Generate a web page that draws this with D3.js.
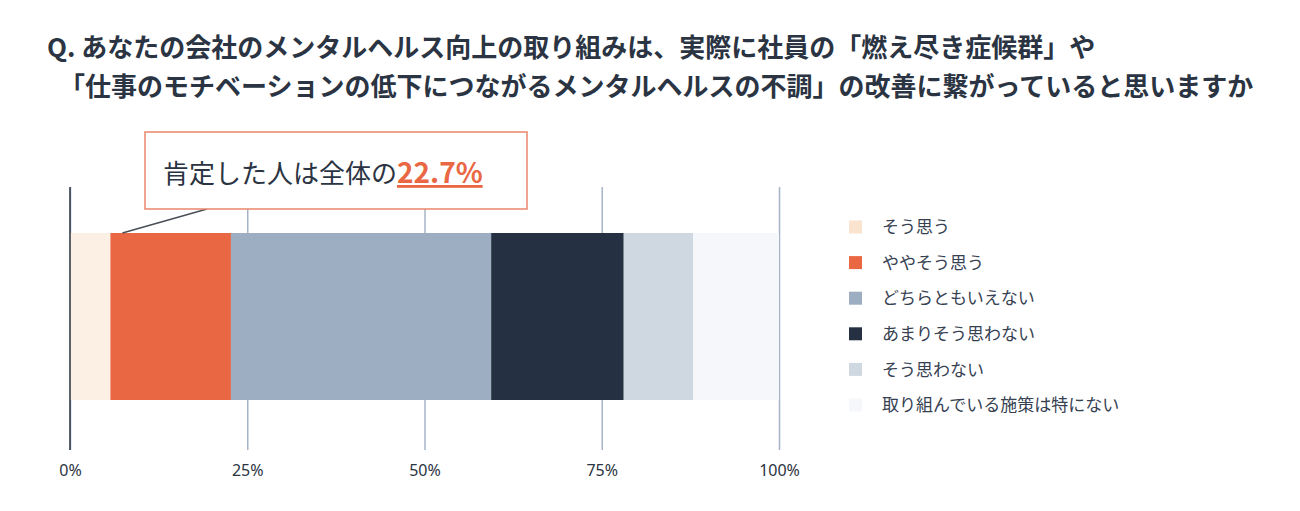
<!DOCTYPE html>
<html>
<head>
<meta charset="utf-8">
<script src="https://cdn.jsdelivr.net/npm/d3@7"></script>
<style>
  body { margin: 0; background: #fff; }
  svg { display: block; font-family: "Noto Sans CJK JP", "Noto Sans", sans-serif; }
</style>
</head>
<body>
<svg width="1300" height="511"></svg>
<script>
// answers, left to right in the bar
var categories = ["そう思う", "ややそう思う", "どちらともいえない", "あまりそう思わない", "そう思わない", "取り組んでいる施策は特にない"];
var values = [5.7, 17.0, 36.7, 18.7, 9.8, 12.1];
var colors = ["#fcf0e4", "#e96743", "#9dadc2", "#253142", "#cfd7e1", "#f6f7fa"];
var legendColors = ["#fbe4cf", "#e96743", "#9dadc2", "#253142", "#cfd7e1", "#f6f7fa"];
var ticks = [0, 25, 50, 75, 100];
var titleLines = [
  "Q. あなたの会社のメンタルヘルス向上の取り組みは、実際に社員の「燃え尽き症候群」や",
  "「仕事のモチベーションの低下につながるメンタルヘルスの不調」の改善に繋がっていると思いますか"
];

var svg = d3.select("svg");
var dark = "#2b3442";

var x = d3.scaleLinear().domain([0, 100]).range([70, 779]);
var barTop = 233, barBottom = 400, gridTop = 187, gridBottom = 450;

// title
svg.selectAll(".title")
  .data(titleLines)
  .enter().append("text")
    .attr("class", "title")
    .attr("x", function(d, i) { return i === 0 ? 47 : 59; })
    .attr("y", function(d, i) { return 57 + i * 39; })
    .attr("fill", dark)
    .attr("font-size", 26)
    .attr("font-weight", "bold")
    .text(function(d) { return d; });

// gridlines + axis
var g = svg.append("g");
g.append("g")
    .attr("transform", "translate(0," + gridBottom + ")")
    .call(d3.axisBottom(x).tickValues(ticks).tickSize(-(gridBottom - gridTop))
      .tickFormat(function(d) { return d + "%"; }))
    .call(function(a) {
      a.select(".domain").remove();
      a.selectAll(".tick line").attr("stroke", "#a5b4c6").attr("stroke-width", 1.5);
      a.selectAll(".tick text")
        .attr("fill", dark)
        .attr("font-size", 16)
        .attr("font-family", "'Noto Sans', sans-serif")
        .attr("dy", "1.45em");
    });

// stacked bar
var row = {};
categories.forEach(function(c, i) { row[c] = values[i]; });
var series = d3.stack().keys(categories)([row]);

g.selectAll(".seg")
  .data(series)
  .enter().append("rect")
    .attr("class", "seg")
    .attr("x", function(d) { return x(d[0][0]); })
    .attr("width", function(d) { return x(d[0][1]) - x(d[0][0]); })
    .attr("y", barTop)
    .attr("height", barBottom - barTop)
    .attr("fill", function(d, i) { return colors[i]; });

// 0% axis line on top
g.append("line")
    .attr("x1", x(0)).attr("x2", x(0))
    .attr("y1", gridTop).attr("y2", gridBottom)
    .attr("stroke", dark).attr("stroke-width", 1.5);

// callout
var agree = values[0] + values[1];
svg.append("line")
    .attr("x1", 207).attr("y1", 209)
    .attr("x2", x(values[0]) + 12).attr("y2", barTop)
    .attr("stroke", "#4a4f57").attr("stroke-width", 1.5);

svg.append("rect")
    .attr("x", 145).attr("y", 132)
    .attr("width", 382).attr("height", 77)
    .attr("fill", "#fff")
    .attr("stroke", "#e9866a").attr("stroke-width", 1.5);

var callout = svg.append("text")
    .attr("x", 163).attr("y", 183)
    .attr("font-size", 26)
    .attr("fill", dark);
callout.append("tspan").text("肯定した人は全体の");
callout.append("tspan")
    .attr("fill", "#e96743")
    .attr("font-weight", "bold")
    .attr("font-size", 28)
    .attr("text-decoration", "underline")
    .text(d3.format(".1f")(agree) + "%");

// legend
var ly = d3.scalePoint().domain(categories).range([227, 405]);
var legend = svg.selectAll(".legend")
  .data(categories)
  .enter().append("g")
    .attr("class", "legend")
    .attr("transform", function(d) { return "translate(849," + ly(d) + ")"; });

legend.append("rect")
    .attr("x", 0).attr("y", -6.5)
    .attr("width", 13).attr("height", 13)
    .attr("fill", function(d, i) { return legendColors[i]; });

legend.append("text")
    .attr("x", 33).attr("y", 0)
    .attr("dy", "0.36em")
    .attr("font-size", 17)
    .attr("fill", "#364152")
    .text(function(d) { return d; });
</script>
</body>
</html>
